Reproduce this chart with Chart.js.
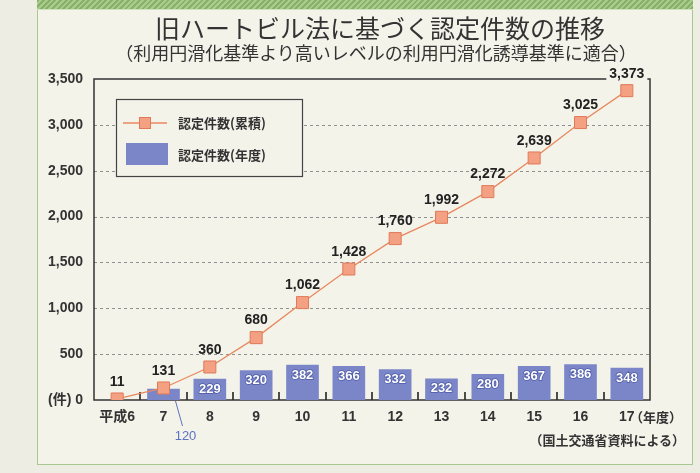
<!DOCTYPE html>
<html><head><meta charset="utf-8">
<script src="https://cdn.jsdelivr.net/npm/chart.js@4.4.0/dist/chart.umd.min.js"></script>
<style>
html,body{margin:0;padding:0;}
body{width:700px;height:473px;background:#eeede3;position:relative;overflow:hidden;font-family:'Noto Sans CJK JP','Noto Sans',sans-serif;color:#333;}
#band{position:absolute;left:37px;top:0;width:656px;height:9px;background:repeating-linear-gradient(135deg,#88b068 0 2px,#a9cb8c 2px 4px);border-bottom:1px solid #cfe2bd;}
#panel{position:absolute;left:37px;top:10px;width:654px;height:454px;border:1px solid #a9c78e;border-top:none;background:#f4f3ea;}
canvas{position:absolute;left:0;top:0;}
.t{position:absolute;white-space:nowrap;}
#title{left:0;width:760px;top:12px;line-height:30px;font-size:25px;font-weight:400;text-align:center;color:#333;}
#sub{left:0;width:752px;top:40px;line-height:24px;font-size:18px;font-weight:400;text-align:center;color:#333;}
#unit{left:630px;top:408px;line-height:18px;font-size:13px;font-weight:700;color:#333;}
#note{right:15px;top:431px;line-height:18px;font-size:13px;font-weight:700;color:#333;}
</style></head>
<body>
<div id="band"></div><div id="panel"></div>
<canvas id="c" width="700" height="473"></canvas>
<div class="t" id="title">旧ハートビル法に基づく認定件数の推移</div>
<div class="t" id="sub">（利用円滑化基準より高いレベルの利用円滑化誘導基準に適合）</div>
<div class="t" id="unit">（年度）</div>
<div class="t" id="note">（国土交通省資料による）</div>
<script>
const years = ['平成6','7','8','9','10','11','12','13','14','15','16','17'];
// yearly certifications (no bar drawn for 平成6)
const annual = [null,120,229,320,382,366,332,232,280,367,386,348];
// cumulative certifications
const cumulative = [11,131,360,680,1062,1428,1760,1992,2272,2639,3025,3373];
const yTicks = [0,500,1000,1500,2000,2500,3000,3500];
const legendLabels = ['認定件数(累積)','認定件数(年度)'];

const lineColor = '#e8885f';
const markerFill = '#f3a083';
const barColor = '#7b86c9';
const numFont = "bold 14px 'Liberation Sans', Arial, sans-serif";
const cjkBold = "bold 13px 'Noto Sans CJK JP', sans-serif";
const bg = '#f4f3ea';

function fmt(v){ return v.toLocaleString('en-US'); }

const decor = {
  id:'decor',
  beforeDatasetsDraw(chart){
    const {ctx, chartArea:a, scales:{x,y}} = chart;
    const L=(x1,y1,x2,y2)=>{ctx.beginPath();ctx.moveTo(x1,y1);ctx.lineTo(x2,y2);ctx.stroke();};
    ctx.save();
    // dashed grid
    ctx.strokeStyle='#8f8f8f'; ctx.lineWidth=1; ctx.setLineDash([3,3]);
    yTicks.forEach(v=>{ if(v>0 && v<3500){ const py=Math.round(y.getPixelForValue(v))+0.5; L(a.left,py,a.right,py);} });
    ctx.setLineDash([]);
    // small ticks between categories
    ctx.strokeStyle='#222'; ctx.lineWidth=1.6;
    for(let i=0;i<years.length-1;i++){
      const px=Math.round((x.getPixelForValue(i)+x.getPixelForValue(i+1))/2);
      L(px,a.bottom-8,px,a.bottom);
    }
    // plot box
    ctx.strokeStyle='#333'; ctx.lineWidth=1.5;
    ctx.strokeRect(a.left,a.top,a.right-a.left,a.bottom-a.top);
    // legend
    const lx=116, ly=99, lw=186, lh=77;
    ctx.fillStyle=bg; ctx.fillRect(lx,ly,lw,lh);
    ctx.strokeStyle='#444'; ctx.lineWidth=1.2; ctx.strokeRect(lx+0.5,ly+0.5,lw,lh);
    // row 1: line + marker
    ctx.strokeStyle=lineColor; ctx.lineWidth=1.5; L(123,123,167,123);
    ctx.fillStyle=markerFill; ctx.fillRect(139,117,12,12);
    ctx.strokeStyle='#e07a58'; ctx.lineWidth=1; ctx.strokeRect(139.5,117.5,11,11);
    // row 2: bar swatch
    ctx.fillStyle=barColor; ctx.fillRect(126,143,42,22);
    ctx.fillStyle='#333'; ctx.font=cjkBold; ctx.textBaseline='middle'; ctx.textAlign='left';
    ctx.fillText(legendLabels[0],178,123);
    ctx.fillText(legendLabels[1],178,155);
    ctx.restore();
  },
  afterDatasetsDraw(chart){
    const {ctx, chartArea:a} = chart;
    ctx.save();
    ctx.textAlign='center'; ctx.textBaseline='middle';
    // bar labels
    const bm = chart.getDatasetMeta(1);
    bm.data.forEach((el,i)=>{
      const v=annual[i]; if(v==null) return;
      if(v<150){
        ctx.strokeStyle='#5b72c2'; ctx.lineWidth=1;
        ctx.beginPath(); ctx.moveTo(el.x+12,a.bottom+1); ctx.lineTo(el.x+19,a.bottom+26); ctx.stroke();
        ctx.fillStyle='#5b72c2'; ctx.font="13px 'Liberation Sans', Arial, sans-serif";
        ctx.fillText(String(v),el.x+22,a.bottom+36);
      } else {
        ctx.font="bold 13px 'Liberation Sans', Arial, sans-serif";
        ctx.lineWidth=1.5; ctx.strokeStyle='#4d5aa6'; ctx.strokeText(String(v),el.x,el.y+10);
        ctx.fillStyle='#ffffff'; ctx.fillText(String(v),el.x,el.y+10);
      }
    });
    // line labels
    const lm = chart.getDatasetMeta(0);
    ctx.font=numFont;
    lm.data.forEach((el,i)=>{
      const t=fmt(cumulative[i]);
      const ty=el.y-17;
      if(i===cumulative.length-1){
        const w=ctx.measureText(t).width;
        ctx.fillStyle=bg; ctx.fillRect(el.x-w/2-3,ty-8,w+6,16);
      }
      ctx.fillStyle='#222'; ctx.fillText(t,el.x,ty);
    });
    ctx.restore();
  }
};

new Chart(document.getElementById('c'),{
  data:{
    labels:years,
    datasets:[
      {type:'line',label:legendLabels[0],data:cumulative,borderColor:lineColor,borderWidth:1.3,
       pointStyle:'rect',pointRadius:8.5,pointHoverRadius:8.5,pointBackgroundColor:markerFill,
       pointBorderColor:'#e07a58',pointBorderWidth:1,tension:0,order:0},
      {type:'bar',label:legendLabels[1],data:annual,backgroundColor:barColor,barThickness:32,order:1}
    ]
  },
  options:{
    responsive:false,animation:false,devicePixelRatio:1,
    layout:{padding:{left:0,top:79,right:50,bottom:43}},
    plugins:{legend:{display:false},tooltip:{enabled:false},title:{display:false}},
    scales:{
      x:{type:'category',offset:true,
         grid:{display:false,drawTicks:false},border:{display:false},
         ticks:{color:'#333',padding:9,maxRotation:0,autoSkip:false,
                font:{family:"'Liberation Sans', 'Noto Sans CJK JP', sans-serif",size:14,weight:'bold'}},
         afterFit(s){s.height=30;}},
      y:{type:'linear',min:0,max:3500,
         grid:{display:false,drawTicks:false},border:{display:false},
         afterBuildTicks(s){s.ticks=yTicks.map(v=>({value:v}));},
         ticks:{color:'#333',padding:11,
                font:{family:"'Liberation Sans', 'Noto Sans CJK JP', sans-serif",size:14,weight:'bold'},
                callback:(v)=> v===0 ? '(件) 0' : fmt(v)},
         afterFit(s){s.width=94;}}
    }
  },
  plugins:[decor]
});
</script>
</body></html>
